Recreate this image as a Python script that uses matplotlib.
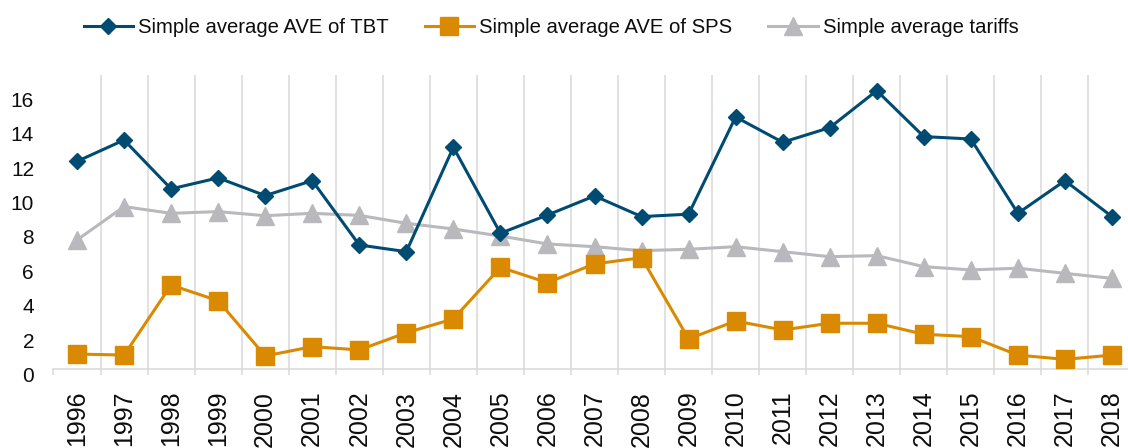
import numpy as np
import matplotlib
matplotlib.use("Agg")
import matplotlib.pyplot as plt
from matplotlib.transforms import ScaledTranslation

plt.rcParams['font.family'] = ['Liberation Sans', 'DejaVu Sans']

## data
years = [str(y) for y in range(1996, 2019)]
tbt = [12.04, 13.28, 10.44, 11.08, 10.05, 10.92, 7.18, 6.79, 12.86, 7.86,
       8.92, 10.03, 8.83, 8.97, 14.62, 13.15, 14.0, 16.15, 13.48, 13.34,
       9.02, 10.92, 8.83]
sps = [0.84, 0.78, 4.85, 3.94, 0.73, 1.27, 1.08, 2.08, 2.88, 5.88,
       4.99, 6.08, 6.44, 1.72, 2.76, 2.24, 2.63, 2.63, 1.99, 1.85,
       0.78, 0.53, 0.78]
tariffs = [7.47, 9.41, 9.02, 9.12, 8.88, 9.02, 8.9, 8.44, 8.11, 7.7,
           7.24, 7.08, 6.85, 6.93, 7.08, 6.79, 6.5, 6.56, 5.92, 5.73,
           5.83, 5.53, 5.24]
yticks = [0, 2, 4, 6, 8, 10, 12, 14, 16]

# colours
c_tbt = '#004b71'
c_sps = '#d98a00'
c_tar = '#b9b9bd'
c_grid = '#d9d9d9'

fig = plt.figure(figsize=(11.28, 4.48), dpi=100)
ax = fig.add_axes([53.5/1128, 79.5/448, 1082/1128, 293.5/448])

x = np.arange(len(years))
ax.plot(x, tbt, color=c_tbt, lw=2.2, marker='D', ms=7.8, label='Simple average AVE of TBT', zorder=4)
ax.plot(x, sps, color=c_sps, lw=2.2, marker='s', ms=13, label='Simple average AVE of SPS', zorder=3)
ax.plot(x, tariffs, color=c_tar, lw=2.2, marker='^', ms=12.5, label='Simple average tariffs', zorder=2)

ax.set_xlim(-0.5, len(years) - 0.5)
ax.set_ylim(0, 17.06)

# category labels at centres, tick marks + gridlines at boundaries
ax.set_xticks(x)
ax.set_xticklabels(years, rotation=90, fontsize=18, color='#0d0d0d')
ax.set_xticks(np.arange(-0.5, len(years)), minor=True)
ax.tick_params(axis='x', which='major', length=0, pad=16)
ax.tick_params(axis='x', which='minor', length=4, width=1.1, color=c_grid)
ax.grid(axis='x', which='minor', color=c_grid, lw=1.1)
ax.set_axisbelow(True)

ax.set_yticks(yticks)
ax.set_yticklabels([str(v) for v in yticks], fontsize=15, color='#0d0d0d')
ax.tick_params(axis='y', length=0, pad=14)
# labels sit slightly below their value in the reference
off = ScaledTranslation(0, -6/100, fig.dpi_scale_trans)
for lab in ax.get_yticklabels():
    lab.set_transform(lab.get_transform() + off)

for s in ['top', 'right', 'left']:
    ax.spines[s].set_visible(False)
ax.spines['bottom'].set_color(c_grid)
ax.spines['bottom'].set_linewidth(1.1)

fig.legend(loc='center', bbox_to_anchor=(551/1128, 1 - 27.5/448), ncol=3, frameon=False,
           fontsize=14.6, handlelength=2.45, handletextpad=0.25, columnspacing=1.75,
           labelcolor='#0d0d0d')

plt.savefig('out.png', dpi=100)
